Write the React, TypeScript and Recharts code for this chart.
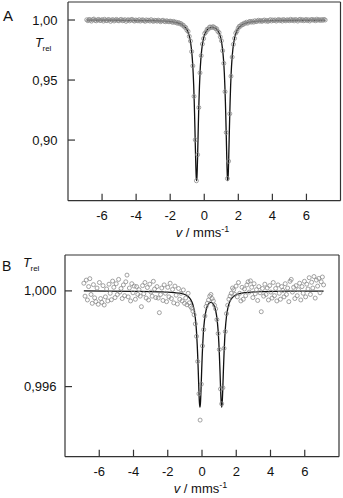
import React from 'react';
import { ComposedChart, Scatter, Line, XAxis, YAxis } from 'recharts';

// velocity of the first channel and channel spacing, mm/s
const V_START = -6.9;
const V_STEP = 0.07;

const xTicks = [-6, -4, -2, 0, 2, 4, 6];
const aYTicks = [0.9, 0.95, 1.0];
const bYTicks = [0.996, 1.0];

// panel A: measured relative transmission per channel
const aT = [
  1.0002, 0.9994, 1.0005, 1.0000, 0.9991, 1.0003, 1.0008, 0.9997, 0.9993, 1.0001,
  1.0005, 0.9995, 0.9998, 1.0003, 0.9991, 1.0006, 0.9997, 0.9994, 1.0004, 1.0001,
  0.9989, 1.0000, 1.0003, 0.9992, 0.9999, 1.0005, 0.9996, 0.9993, 1.0002, 1.0005,
  0.9994, 0.9997, 1.0003, 0.9989, 0.9999, 1.0002, 0.9993, 1.0000, 1.0006, 0.9996,
  0.9991, 1.0000, 0.9997, 0.9993, 1.0003, 0.9991, 0.9998, 1.0002, 0.9994, 0.9989,
  1.0001, 0.9995, 0.9998, 0.9991, 1.0003, 0.9993, 0.9989, 0.9998, 0.9995, 0.9990,
  0.9999, 0.9993, 0.9986, 0.9994, 0.9998, 0.9989, 0.9986, 0.9994, 0.9989, 0.9985,
  0.9991, 0.9988, 0.9980, 0.9989, 0.9980, 0.9982, 0.9973, 0.9979, 0.9969, 0.9971,
  0.9958, 0.9957, 0.9941, 0.9938, 0.9916, 0.9905, 0.9864, 0.9825, 0.9737, 0.9618,
  0.9364, 0.9002, 0.8661, 0.8878, 0.9271, 0.9560, 0.9703, 0.9800, 0.9845, 0.9888,
  0.9901, 0.9923, 0.9924, 0.9941, 0.9941, 0.9937, 0.9945, 0.9938, 0.9928, 0.9927,
  0.9905, 0.9895, 0.9860, 0.9827, 0.9744, 0.9639, 0.9403, 0.9063, 0.8679, 0.8824,
  0.9219, 0.9532, 0.9691, 0.9797, 0.9847, 0.9891, 0.9907, 0.9932, 0.9948, 0.9949,
  0.9963, 0.9961, 0.9974, 0.9972, 0.9982, 0.9974, 0.9984, 0.9989, 0.9982, 0.9989,
  0.9982, 0.9994, 0.9986, 0.9991, 0.9998, 0.9990, 0.9996, 0.9988, 0.9995, 1.0000,
  0.9991, 0.9997, 0.9988, 0.9995, 1.0003, 0.9992, 1.0000, 0.9995, 1.0001, 0.9991,
  0.9999, 1.0004, 0.9994, 1.0000, 0.9991, 1.0004, 0.9998, 0.9993, 1.0002, 0.9999,
  0.9994, 1.0006, 0.9996, 1.0002, 0.9993, 1.0004, 1.0000, 0.9991, 1.0001, 1.0006,
  0.9996, 1.0003, 0.9994, 0.9999, 1.0005, 0.9995, 1.0002, 0.9992, 1.0001, 1.0005,
  0.9998, 1.0002, 0.9994, 1.0007, 0.9999, 1.0003, 0.9996, 1.0004, 0.9997, 1.0005,
  1.0000,
];

// panel A: fitted doublet [v, T]
const aFit: [number, number][] = [
  [-6.9, 0.9999], [-5, 0.9998], [-3, 0.99946], [-2, 0.9987], [-1.5, 0.99737],
  [-1.2, 0.99513], [-1.0, 0.99144], [-0.85, 0.98496], [-0.75, 0.97563], [-0.7, 0.9676],
  [-0.65, 0.9557], [-0.62, 0.9456], [-0.59, 0.9328], [-0.57, 0.9226], [-0.55, 0.9112],
  [-0.53, 0.899], [-0.51, 0.8869], [-0.49, 0.8763], [-0.47, 0.869], [-0.45, 0.8662],
  [-0.43, 0.8689], [-0.41, 0.8762], [-0.39, 0.8868], [-0.37, 0.8989], [-0.35, 0.9111],
  [-0.33, 0.9225], [-0.31, 0.9326], [-0.28, 0.9453], [-0.25, 0.9554], [-0.2, 0.9672],
  [-0.15, 0.9751], [-0.05, 0.98422], [0.05, 0.98887], [0.15, 0.99143], [0.25, 0.99287],
  [0.35, 0.99364], [0.465, 0.99392], [0.58, 0.99364], [0.68, 0.99287], [0.78, 0.99143],
  [0.88, 0.98887], [0.98, 0.98422], [1.08, 0.9751], [1.13, 0.9672], [1.18, 0.9554],
  [1.21, 0.9453], [1.24, 0.9326], [1.26, 0.9225], [1.28, 0.9111], [1.3, 0.8989],
  [1.32, 0.8868], [1.34, 0.8762], [1.36, 0.8689], [1.38, 0.8662], [1.4, 0.869],
  [1.42, 0.8763], [1.44, 0.8869], [1.46, 0.899], [1.48, 0.9112], [1.5, 0.9226],
  [1.52, 0.9328], [1.55, 0.9456], [1.58, 0.9557], [1.63, 0.9676], [1.68, 0.97563],
  [1.78, 0.98496], [1.93, 0.99144], [2.13, 0.99513], [2.43, 0.99737], [2.93, 0.9987],
  [3.93, 0.99946], [5.93, 0.9998], [7.1, 0.99987],
];

// panel B: measured relative transmission per channel
const bT = [
  1.00032, 0.99978, 1.00045, 0.99962, 1.00018, 1.00051, 0.99985, 0.99948, 1.00026, 0.99971,
  0.99955, 1.00012, 0.99944, 1.00035, 0.99968, 0.99952, 1.00022, 0.99941, 0.99975, 1.00008,
  0.99958, 1.00028, 0.99990, 0.99963, 1.00041, 1.00015, 0.99972, 1.00030, 0.99985, 1.00048,
  0.99995, 1.00010, 0.99968, 1.00025, 0.99980, 1.00038, 1.00066, 0.99975, 1.00012, 0.99958,
  1.00030, 0.99992, 1.00020, 0.99965, 1.00018, 0.99985, 1.00005, 0.99978, 0.99934, 1.00022,
  0.99988, 1.00035, 0.99970, 1.00014, 0.99962, 1.00028, 0.99995, 0.99978, 1.00040, 1.00008,
  0.99972, 1.00018, 0.99970, 0.99909, 0.99985, 1.00012, 0.99960, 1.00025, 0.99990, 0.99955,
  1.00015, 0.99975, 1.00032, 0.99968, 1.00006, 0.99950, 1.00020, 0.99982, 0.99945, 1.00010,
  0.99965, 0.99990, 0.99958, 1.00004, 0.99948, 0.99970, 0.99942, 0.99990, 0.99950, 0.99935,
  0.99928, 0.99915, 0.99900, 0.99862, 0.99810, 0.99705, 0.99570, 0.99460, 0.99610, 0.99770,
  0.99838, 0.99895, 0.99935, 0.99948, 0.99962, 0.99978, 0.99985, 0.99968, 0.99958, 0.99940,
  0.99925, 0.99880, 0.99822, 0.99755, 0.99590, 0.99528, 0.99595, 0.99760, 0.99830, 0.99905,
  0.99940, 0.99965, 0.99978, 0.99990, 1.00012, 1.00005, 0.99985, 1.00020, 0.99975, 1.00035,
  0.99990, 0.99958, 1.00015, 0.99965, 1.00008, 0.99980, 1.00025, 1.00038, 0.99995, 1.00042,
  1.00015, 0.99972, 1.00030, 0.99988, 1.00005, 0.99960, 1.00018, 0.99992, 0.99913, 1.00010,
  0.99978, 1.00028, 0.99985, 1.00012, 0.99962, 1.00022, 0.99995, 0.99970, 1.00035, 0.99980,
  1.00010, 0.99958, 1.00025, 0.99990, 0.99965, 1.00018, 1.00002, 0.99975, 1.00030, 0.99985,
  1.00012, 0.99955, 1.00040, 1.00048, 0.99995, 1.00015, 0.99968, 1.00022, 0.99980, 1.00005,
  1.00032, 0.99962, 1.00018, 0.99990, 1.00040, 0.99975, 1.00028, 1.00008, 1.00055, 0.99985,
  1.00036, 1.00012, 1.00060, 0.99970, 1.00045, 1.00020, 1.00052, 0.99992, 1.00038, 1.00058,
  1.00025,
];

// panel B: fitted doublet [v, T]
const bFit: [number, number][] = [
  [-6.9, 1.0], [-4, 0.99998], [-2.5, 0.99996], [-1.8, 0.99994], [-1.4, 0.99991],
  [-1.1, 0.99988], [-0.95, 0.99983], [-0.81, 0.99977], [-0.67, 0.99965], [-0.53, 0.99942],
  [-0.46, 0.99921], [-0.39, 0.99887], [-0.32, 0.99828], [-0.28, 0.99776], [-0.25, 0.99727],
  [-0.22, 0.99667], [-0.18, 0.99583], [-0.15, 0.99533], [-0.12, 0.99514], [-0.09, 0.99532],
  [-0.06, 0.99582], [-0.02, 0.99666], [0.01, 0.99725], [0.04, 0.99774], [0.08, 0.99825],
  [0.15, 0.99881], [0.24, 0.9992], [0.31, 0.99936], [0.38, 0.99946], [0.52, 0.99952],
  [0.66, 0.99945], [0.73, 0.99935], [0.8, 0.99917], [0.87, 0.99887], [0.94, 0.99835],
  [0.98, 0.99788], [1.01, 0.99742], [1.05, 0.99666], [1.08, 0.99603], [1.12, 0.99533],
  [1.15, 0.99514], [1.18, 0.99534], [1.22, 0.99604], [1.25, 0.99668], [1.29, 0.99745],
  [1.32, 0.99791], [1.36, 0.99839], [1.43, 0.99893], [1.5, 0.99925], [1.57, 0.99945],
  [1.71, 0.99966], [1.85, 0.99977], [2.06, 0.99986], [2.55, 0.99993], [3.5, 0.99997],
  [5, 0.99999], [7.1, 0.99999],
];

const INK = '#333';
const FONT = "'Liberation Sans', Arial, sans-serif";

const toPoints = (arr: number[]) =>
  arr.map((t, i) => ({ v: +(V_START + i * V_STEP).toFixed(3), t }));
const toFit = (arr: [number, number][]) => arr.map(([v, t]) => ({ v, t }));

const renderXTick = ({ x, y, payload }: any) => (
  <g>
    <line x1={x} y1={y} x2={x} y2={y - 7} stroke={INK} strokeWidth={1.2} />
    <text x={x} y={y + 19.5} textAnchor="middle" fontSize={13} fontFamily={FONT} fill="#111">
      {payload.value}
    </text>
  </g>
);

function makeYTick(digits: number, gap: number) {
  return ({ x, y, payload }: any) => (
    <g>
      <line x1={x} y1={y} x2={x + 7} y2={y} stroke={INK} strokeWidth={1.2} />
      <text x={x - gap} y={y + 4.6} textAnchor="end" fontSize={13} fontFamily={FONT} fill="#111">
        {Number(payload.value).toFixed(digits).replace('.', ',')}
      </text>
    </g>
  );
}

const dot = (p: any) => (
  <circle cx={p.cx} cy={p.cy} r={2} fill="none" stroke="#8a8a8a" strokeWidth={0.8} />
);

// axis boxes reserve this much room; margins below are the remainder
const X_AXIS_H = 30;
const Y_AXIS_W = 40;

interface PanelProps {
  height: number;
  plot: { top: number; right: number; bottom: number; left: number };
  yDomain: [number, number];
  yTicks: number[];
  digits: number;
  gap: number;
  points: { v: number; t: number }[];
  fit: { v: number; t: number }[];
}

function Panel({ height, plot, yDomain, yTicks, digits, gap, points, fit }: PanelProps) {
  const axisLine = { stroke: INK, strokeWidth: 1.2 };
  const margin = {
    top: plot.top - 1,
    right: plot.right - 1,
    bottom: plot.bottom - X_AXIS_H,
    left: plot.left - Y_AXIS_W,
  };
  return (
    <ComposedChart width={343} height={height} margin={margin}>
      <XAxis
        type="number"
        dataKey="v"
        domain={[-8, 8]}
        ticks={xTicks}
        interval={0}
        height={X_AXIS_H}
        tickSize={0}
        tickMargin={0}
        tickLine={false}
        axisLine={axisLine}
        tick={renderXTick}
        allowDataOverflow
      />
      <XAxis
        xAxisId="top"
        orientation="top"
        type="number"
        domain={[-8, 8]}
        height={1}
        tick={false}
        tickLine={false}
        axisLine={axisLine}
      />
      <YAxis
        type="number"
        domain={yDomain}
        ticks={yTicks}
        interval={0}
        width={Y_AXIS_W}
        tickSize={0}
        tickMargin={0}
        tickLine={false}
        axisLine={axisLine}
        tick={makeYTick(digits, gap)}
        allowDataOverflow
      />
      <YAxis
        yAxisId="right"
        orientation="right"
        type="number"
        domain={yDomain}
        width={1}
        tick={false}
        tickLine={false}
        axisLine={axisLine}
      />
      <Scatter data={points} dataKey="t" shape={dot} isAnimationActive={false} />
      <Line data={fit} dataKey="t" type="monotone" stroke="#111" strokeWidth={1.3} dot={false} isAnimationActive={false} />
    </ComposedChart>
  );
}

export default function App() {
  return (
    <div style={{ position: 'absolute', left: 0, top: 0, width: 343, height: 498, background: '#fff' }}>
      <div style={{ position: 'absolute', left: 0, top: 0 }}>
        <Panel
          height={245}
          plot={{ top: 2, right: 2.5, bottom: 44.3, left: 68 }}
          yDomain={[0.8495, 1.015]}
          yTicks={aYTicks}
          digits={2}
          gap={10.5}
          points={toPoints(aT)}
          fit={toFit(aFit)}
        />
      </div>
      <div style={{ position: 'absolute', left: 0, top: 250 }}>
        <Panel
          height={248}
          plot={{ top: 5, right: 4, bottom: 41.3, left: 65 }}
          yDomain={[0.99307, 1.0015]}
          yTicks={bYTicks}
          digits={3}
          gap={8.5}
          points={toPoints(bT)}
          fit={toFit(bFit)}
        />
      </div>
      <svg width={343} height={498} style={{ position: 'absolute', left: 0, top: 0, pointerEvents: 'none' }}>
        <g fontFamily={FONT} fill="#111">
          <text x={3} y={20.5} fontSize={15}>A</text>
          <text x={35} y={47} fontSize={13} fontStyle="italic">T</text>
          <text x={42.5} y={50.5} fontSize={8}>rel</text>
          <text x={202.5} y={236.5} fontSize={13} textAnchor="middle">
            <tspan fontStyle="italic">v</tspan> / mms<tspan dy={-5} fontSize={9}>-1</tspan>
          </text>
          <text x={2} y={271} fontSize={14}>B</text>
          <text x={23} y={267} fontSize={13} fontStyle="italic">T</text>
          <text x={30.5} y={271} fontSize={8}>rel</text>
          <text x={200.5} y={493} fontSize={13} textAnchor="middle">
            <tspan fontStyle="italic">v</tspan> / mms<tspan dy={-5} fontSize={9}>-1</tspan>
          </text>
        </g>
      </svg>
    </div>
  );
}
